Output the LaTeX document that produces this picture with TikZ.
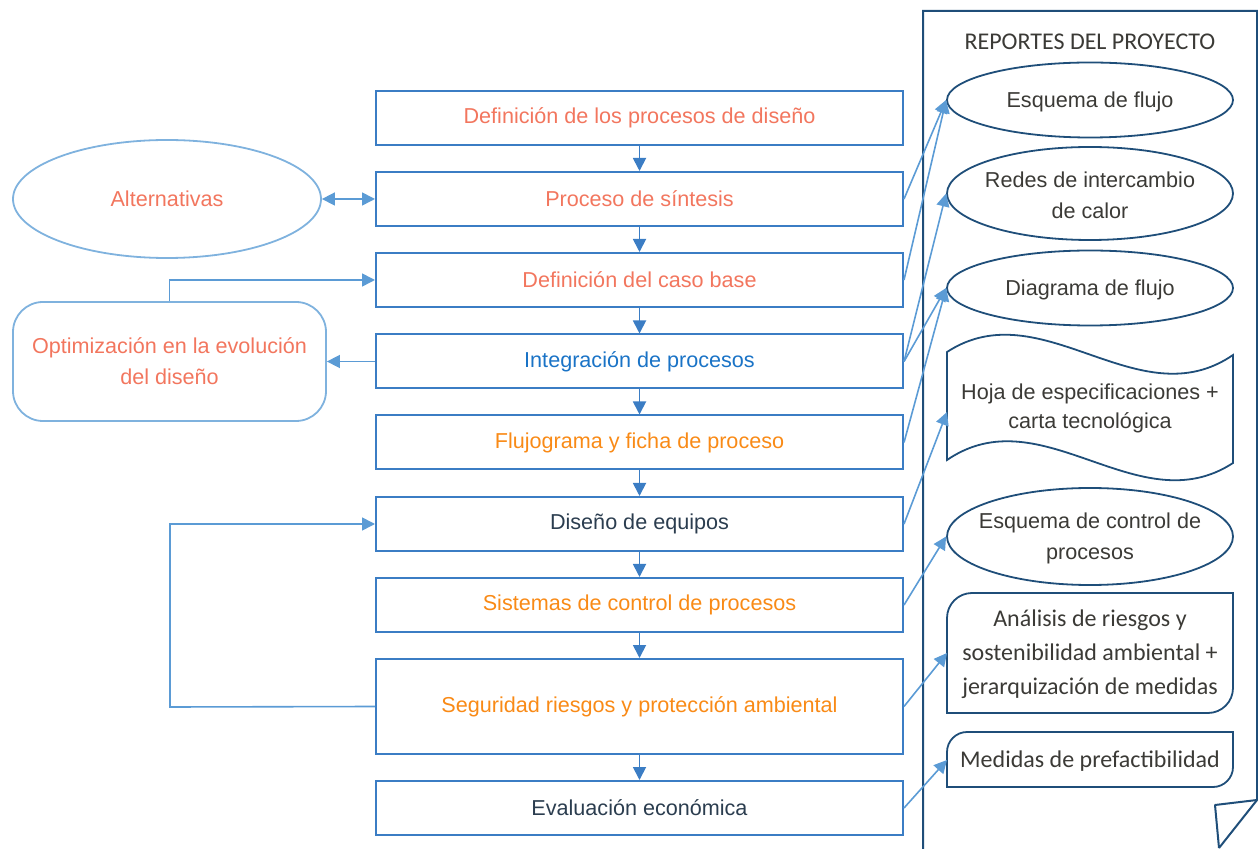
\documentclass[tikz,border=0pt]{standalone}
\usepackage{fontspec}
\setmainfont{Liberation Sans}
\newfontfamily\calib{Carlito}
\usetikzlibrary{arrows.meta,shapes.geometric}

\definecolor{boxblue}{HTML}{3B7DC4}
\definecolor{linkblue}{HTML}{5B9BD5}
\definecolor{softblue}{HTML}{7FB2DE}
\definecolor{navy}{HTML}{1F4E79}
\definecolor{coral}{HTML}{F2765E}
\definecolor{textblue}{HTML}{1A73C6}
\definecolor{orangetxt}{HTML}{F98A16}
\definecolor{slate}{HTML}{2B3D4F}
\definecolor{graytxt}{HTML}{3B3A36}

\tikzset{
  mainbox/.style={draw=boxblue, line width=1pt, minimum width=263.5pt,
    minimum height=27pt, inner sep=0pt, align=center,
    font=\fontsize{10.8}{15.5}\selectfont},
  softshape/.style={draw=softblue, line width=0.9pt, align=center,
    text=coral, font=\fontsize{10.8}{15.5}\selectfont},
  repell/.style={ellipse, draw=navy, line width=0.9pt, minimum width=143pt,
    inner sep=0pt},
  reptext/.style={align=center, text=graytxt, inner sep=0pt,
    font=\fontsize{10.8}{15.5}\selectfont},
  flow/.style={draw=boxblue, line width=0.9pt,
    -{Triangle[length=6.5pt,width=6.5pt]}},
  link/.style={draw=linkblue, line width=0.8pt,
    -{Triangle[length=6.5pt,width=6.5pt]}},
}

\begin{document}
\begin{tikzpicture}[x=0.5pt, y=-0.5pt]
\useasboundingbox (0,0) rectangle (1258,849);

% main process column
\node[mainbox, text=coral]     (b1) at (639.5,118)   {Definición de los procesos de diseño};
\node[mainbox, text=coral]     (b2) at (639.5,199)   {Proceso de síntesis};
\node[mainbox, text=coral]     (b3) at (639.5,280)   {Definición del caso base};
\node[mainbox, text=textblue]  (b4) at (639.5,361.5) {Integración de procesos};
\node[mainbox, text=orangetxt] (b5) at (639.5,442.5) {Flujograma y ficha de proceso};
\node[mainbox, text=slate]     (b6) at (639.5,524)   {Diseño de equipos};
\node[mainbox, text=orangetxt] (b7) at (639.5,605)   {Sistemas de control de procesos};
\node[mainbox, text=orangetxt, minimum height=47.5pt] (b8) at (639.5,706.5) {Seguridad riesgos y protección ambiental};
\node[mainbox, text=slate]     (b9) at (639.5,808)   {Evaluación económica};

\foreach \a/\b in {b1/b2,b2/b3,b3/b4,b4/b5,b5/b6,b6/b7,b7/b8,b8/b9}
  \draw[flow] (\a.south) -- (\b.north);

% side loops on the left
\node[softshape, ellipse, minimum width=154pt, minimum height=59pt, inner sep=0pt]
  (alt) at (167,199) {Alternativas};
\node[softshape, rectangle, rounded corners=15pt, minimum width=156.5pt,
  minimum height=59.5pt, inner sep=0pt] (opt) at (169.5,361.5)
  {Optimización en la evolución\\del diseño};

\draw[link, {Triangle[length=6.5pt,width=6.5pt]}-{Triangle[length=6.5pt,width=6.5pt]}]
  (alt.east) -- (b2.west);
\draw[link] (opt.north) |- (b3.west);
\draw[link] (b4.west) -- (opt.east);
\coordinate (loopc) at (170,707);
\draw[link] (b8.west) -- (loopc) |- (b6.west);

% project reports page with folded corner
\draw[navy, line width=1pt] (923,849) -- (923,11) -- (1257,11) -- (1257,800) -- (1219,848);
\draw[navy, line width=1pt, line join=round] (1257,800) -- (1215,805) -- (1219,848);
\node[reptext, font=\calib\fontsize{12}{14}\selectfont] (title) at (1090,42) {REPORTES DEL PROYECTO};

% report ellipses (outline and label kept apart so the text does not widen them)
\node[repell, minimum height=37.5pt] (esq)   at (1090,100)   {};
\node[reptext] (esqt) at ([yshift=-1pt]esq.center) {Esquema de flujo};
\node[repell, minimum height=46.5pt] (redes) at (1090,193.5) {};
\node[reptext] (redest) at ([yshift=-1pt]redes.center) {Redes de intercambio\\de calor};
\node[repell, minimum height=37.5pt] (diag)  at (1090,288)   {};
\node[reptext] (diagt) at ([yshift=-1pt]diag.center) {Diagrama de flujo};
\node[repell, minimum height=48.5pt] (ctrl)  at (1090,536.5) {};
\node[reptext] (ctrlt) at ([yshift=-1pt]ctrl.center) {Esquema de control de\\procesos};

% wavy sheet
\draw[navy, line width=0.9pt]
  (947,352) .. controls (1042,290) and (1138,420) .. (1233,355)
  -- (1233,463) .. controls (1138,525) and (1042,395) .. (947,460) -- cycle;
\node[reptext, font=\fontsize{10.8}{14.5}\selectfont] (hoja) at (1090,408)
  {Hoja de especificaciones +\\carta tecnológica};
\coordinate (hojaw) at (947,412);

% boxes with two rounded diagonal corners
\draw[navy, line width=0.9pt]
  (947,713) -- (947,618) .. controls (947,604.2) and (958.2,593) .. (972,593)
  -- (1233,593) -- (1233,688) .. controls (1233,701.8) and (1221.8,713) .. (1208,713) -- cycle;
\node[reptext, font=\calib\fontsize{12}{17}\selectfont] (anal) at (1090,654)
  {Análisis de riesgos y\\sostenibilidad ambiental +\\jerarquización de medidas};
\coordinate (analw) at (947,653);

\draw[navy, line width=0.9pt]
  (947,787) -- (947,752) .. controls (947,741) and (956,732) .. (967,732)
  -- (1233,732) -- (1233,767) .. controls (1233,778) and (1224,787) .. (1213,787) -- cycle;
\node[reptext, font=\calib\fontsize{12}{14}\selectfont] (med) at (1090,761)
  {Medidas de prefactibilidad};
\coordinate (medw) at (947,760);

% links from the process steps to their reports
\draw[link] (b2.east) -- (esq.west);
\draw[link] (b3.east) -- (esq.west);
\draw[link] (b4.east) -- (redes.west);
\draw[link] (b4.east) -- (diag.west);
\draw[link] (b5.east) -- (diag.west);
\draw[link] (b6.east) -- (hojaw);
\draw[link] (b7.east) -- (ctrl.west);
\draw[link] (b8.east) -- (analw);
\draw[link] (b9.east) -- (medw);
\end{tikzpicture}
\end{document}
